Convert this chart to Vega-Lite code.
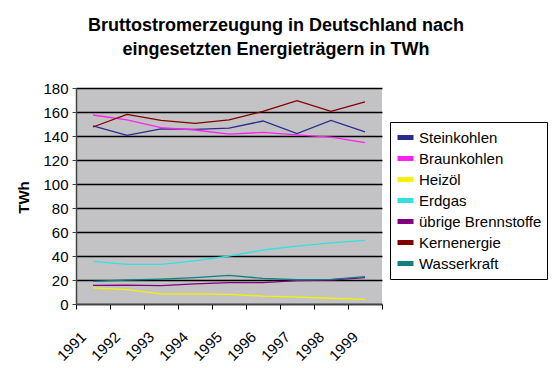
{
  "$schema": "https://vega.github.io/schema/vega-lite/v6.json",
  "width": 306,
  "height": 216,
  "autosize": {"type": "none"},
  "padding": {"left": 76, "top": 88, "right": 170, "bottom": 64},
  "background": "white",
  "title": {
    "text": ["Bruttostromerzeugung in Deutschland nach", "eingesetzten Energieträgern in TWh"],
    "font": "Liberation Sans",
    "fontSize": 18,
    "fontWeight": "bold",
    "color": "black",
    "anchor": "middle",
    "frame": "group",
    "dx": 47,
    "lineHeight": 24,
    "offset": 22
  },
  "data": {
    "values": [
      {"Jahr": 1991, "Traeger": "Steinkohlen", "TWh": 148.5},
      {"Jahr": 1992, "Traeger": "Steinkohlen", "TWh": 140.5},
      {"Jahr": 1993, "Traeger": "Steinkohlen", "TWh": 146},
      {"Jahr": 1994, "Traeger": "Steinkohlen", "TWh": 145.5},
      {"Jahr": 1995, "Traeger": "Steinkohlen", "TWh": 146.5},
      {"Jahr": 1996, "Traeger": "Steinkohlen", "TWh": 152.5},
      {"Jahr": 1997, "Traeger": "Steinkohlen", "TWh": 142},
      {"Jahr": 1998, "Traeger": "Steinkohlen", "TWh": 153},
      {"Jahr": 1999, "Traeger": "Steinkohlen", "TWh": 143.5},
      {"Jahr": 1991, "Traeger": "Braunkohlen", "TWh": 157.5},
      {"Jahr": 1992, "Traeger": "Braunkohlen", "TWh": 153.5},
      {"Jahr": 1993, "Traeger": "Braunkohlen", "TWh": 147},
      {"Jahr": 1994, "Traeger": "Braunkohlen", "TWh": 145},
      {"Jahr": 1995, "Traeger": "Braunkohlen", "TWh": 141.5},
      {"Jahr": 1996, "Traeger": "Braunkohlen", "TWh": 143},
      {"Jahr": 1997, "Traeger": "Braunkohlen", "TWh": 141},
      {"Jahr": 1998, "Traeger": "Braunkohlen", "TWh": 139},
      {"Jahr": 1999, "Traeger": "Braunkohlen", "TWh": 134.5},
      {"Jahr": 1991, "Traeger": "Heizöl", "TWh": 13.5},
      {"Jahr": 1992, "Traeger": "Heizöl", "TWh": 12},
      {"Jahr": 1993, "Traeger": "Heizöl", "TWh": 8.5},
      {"Jahr": 1994, "Traeger": "Heizöl", "TWh": 8.5},
      {"Jahr": 1995, "Traeger": "Heizöl", "TWh": 8},
      {"Jahr": 1996, "Traeger": "Heizöl", "TWh": 6.5},
      {"Jahr": 1997, "Traeger": "Heizöl", "TWh": 5.8},
      {"Jahr": 1998, "Traeger": "Heizöl", "TWh": 4.8},
      {"Jahr": 1999, "Traeger": "Heizöl", "TWh": 3.8},
      {"Jahr": 1991, "Traeger": "Erdgas", "TWh": 35.5},
      {"Jahr": 1992, "Traeger": "Erdgas", "TWh": 33},
      {"Jahr": 1993, "Traeger": "Erdgas", "TWh": 33},
      {"Jahr": 1994, "Traeger": "Erdgas", "TWh": 36},
      {"Jahr": 1995, "Traeger": "Erdgas", "TWh": 40},
      {"Jahr": 1996, "Traeger": "Erdgas", "TWh": 45},
      {"Jahr": 1997, "Traeger": "Erdgas", "TWh": 48.3},
      {"Jahr": 1998, "Traeger": "Erdgas", "TWh": 51},
      {"Jahr": 1999, "Traeger": "Erdgas", "TWh": 53},
      {"Jahr": 1991, "Traeger": "übrige Brennstoffe", "TWh": 15.5},
      {"Jahr": 1992, "Traeger": "übrige Brennstoffe", "TWh": 15.8},
      {"Jahr": 1993, "Traeger": "übrige Brennstoffe", "TWh": 15.3},
      {"Jahr": 1994, "Traeger": "übrige Brennstoffe", "TWh": 16.7},
      {"Jahr": 1995, "Traeger": "übrige Brennstoffe", "TWh": 17.8},
      {"Jahr": 1996, "Traeger": "übrige Brennstoffe", "TWh": 17.8},
      {"Jahr": 1997, "Traeger": "übrige Brennstoffe", "TWh": 19.4},
      {"Jahr": 1998, "Traeger": "übrige Brennstoffe", "TWh": 20},
      {"Jahr": 1999, "Traeger": "übrige Brennstoffe", "TWh": 22},
      {"Jahr": 1991, "Traeger": "Kernenergie", "TWh": 147.5},
      {"Jahr": 1992, "Traeger": "Kernenergie", "TWh": 158},
      {"Jahr": 1993, "Traeger": "Kernenergie", "TWh": 153},
      {"Jahr": 1994, "Traeger": "Kernenergie", "TWh": 150.5},
      {"Jahr": 1995, "Traeger": "Kernenergie", "TWh": 153.5},
      {"Jahr": 1996, "Traeger": "Kernenergie", "TWh": 160.5},
      {"Jahr": 1997, "Traeger": "Kernenergie", "TWh": 169.5},
      {"Jahr": 1998, "Traeger": "Kernenergie", "TWh": 160.5},
      {"Jahr": 1999, "Traeger": "Kernenergie", "TWh": 168.5},
      {"Jahr": 1991, "Traeger": "Wasserkraft", "TWh": 18.8},
      {"Jahr": 1992, "Traeger": "Wasserkraft", "TWh": 20},
      {"Jahr": 1993, "Traeger": "Wasserkraft", "TWh": 20.8},
      {"Jahr": 1994, "Traeger": "Wasserkraft", "TWh": 22},
      {"Jahr": 1995, "Traeger": "Wasserkraft", "TWh": 23.8},
      {"Jahr": 1996, "Traeger": "Wasserkraft", "TWh": 21.4},
      {"Jahr": 1997, "Traeger": "Wasserkraft", "TWh": 20.2},
      {"Jahr": 1998, "Traeger": "Wasserkraft", "TWh": 20.6},
      {"Jahr": 1999, "Traeger": "Wasserkraft", "TWh": 22.8}
    ]
  },
  "mark": {"type": "line", "strokeWidth": 1.3},
  "encoding": {
    "x": {
      "field": "Jahr",
      "type": "quantitative",
      "scale": {"domain": [1990.5, 1999.5], "nice": false, "zero": false},
      "axis": {
        "title": null,
        "grid": false,
        "values": [1990.5, 1991.5, 1992.5, 1993.5, 1994.5, 1995.5, 1996.5, 1997.5, 1998.5, 1999.5],
        "labelExpr": "datum.value < 1999 ? format(datum.value + 0.5, 'd') : ''",
        "labelAngle": -45,
        "labelAlign": "right",
        "labelBaseline": "middle",
        "labelOffset": 7,
        "labelPadding": 25,
        "labelFont": "Liberation Sans",
        "labelFontSize": 15,
        "labelColor": "black",
        "labelFlush": false,
        "labelOverlap": false,
        "tickColor": "black",
        "tickSize": 5,
        "domainColor": "#444444",
        "domainWidth": 1.5
      }
    },
    "y": {
      "field": "TWh",
      "type": "quantitative",
      "scale": {"domain": [0, 180], "nice": false},
      "axis": {
        "title": "TWh",
        "titleFont": "Liberation Sans",
        "titleFontSize": 15,
        "titleFontWeight": "bold",
        "titleColor": "black",
        "titleX": -53,
        "titleY": 109,
        "titleAlign": "center",
        "titleBaseline": "middle",
        "titleAngle": -90,
        "values": [0, 20, 40, 60, 80, 100, 120, 140, 160, 180],
        "labelFont": "Liberation Sans",
        "labelFontSize": 15,
        "labelColor": "black",
        "labelPadding": 4,
        "labelFlush": false,
        "gridColor": "black",
        "gridWidth": 1.5,
        "tickColor": "#444444",
        "tickSize": 4,
        "domainColor": "#444444",
        "domainWidth": 1.5
      }
    },
    "color": {
      "field": "Traeger",
      "type": "nominal",
      "scale": {
        "domain": ["Steinkohlen", "Braunkohlen", "Heizöl", "Erdgas", "übrige Brennstoffe", "Kernenergie", "Wasserkraft"],
        "range": ["#2b2b8f", "#ff22ee", "#f4f400", "#33e0e0", "#800080", "#800000", "#0f8080"]
      },
      "legend": {
        "title": null,
        "orient": "none",
        "legendX": 314,
        "legendY": 34,
        "padding": 5,
        "strokeColor": "black",
        "fillColor": "white",
        "cornerRadius": 0,
        "labelFont": "Liberation Sans",
        "labelFontSize": 15,
        "labelColor": "black",
        "labelOffset": 3,
        "rowPadding": 0,
        "symbolType": "M-1,0H1",
        "symbolSize": 256,
        "symbolStrokeWidth": 5,
        "symbolOpacity": 1,
        "labelLimit": 200
      }
    }
  },
  "config": {
    "view": {"fill": "#c3c3c6", "stroke": null},
    "axis": {"labelFont": "Liberation Sans"}
  }
}
